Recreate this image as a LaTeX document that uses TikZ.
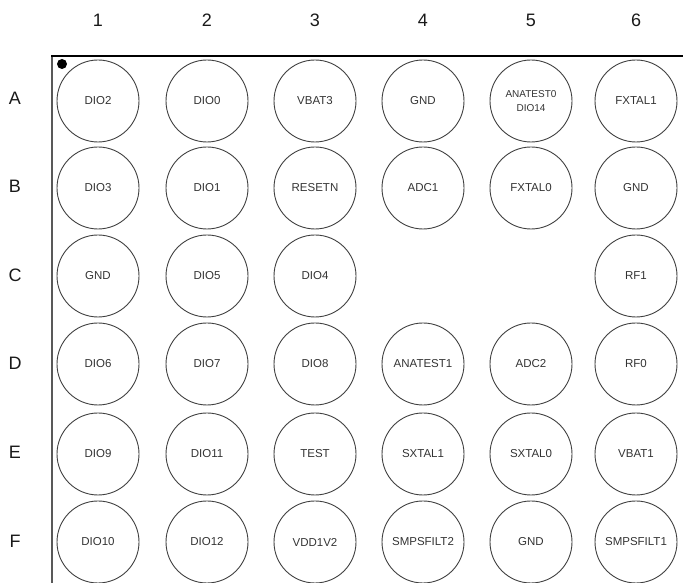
\documentclass[tikz,border=0pt]{standalone}
\usepackage{fontspec}
\setmainfont{Liberation Sans}
\begin{document}
\begin{tikzpicture}[x=1pt,y=1pt,
  pin/.style={circle,draw=black!75,line width=0.9pt,minimum size=82pt,inner sep=0pt,
    font=\fontsize{11.5}{12}\selectfont,text=black!80,align=center},
  smallpin/.style={pin,font=\fontsize{10}{13.5}\selectfont},
  axislabel/.style={font=\fontsize{18}{19}\selectfont,text=black!90,inner sep=0pt}]
\useasboundingbox (0,0) rectangle (683,583);
% frame
\draw[black!65,line width=1.3pt] (52,527) -- (52,0);
\draw[black,line width=2.6pt] (51.4,527) -- (683,527);
\fill[black] (62,519) circle (5);
% column labels
\foreach \x/\n in {98/1,207/2,315/3,423/4,531/5,636/6}
  \node[axislabel] (col\n) at (\x,563) {\n};
% row labels
\foreach \y/\n in {485/A,397/B,308/C,220/D,131/E,42/F}
  \node[axislabel] (row\n) at (15,\y) {\n};
% pins
\foreach \x/\y/\nm/\t in {
  98/482/A1/DIO2, 207/482/A2/DIO0, 315/482/A3/VBAT3, 423/482/A4/GND, 636/482/A6/FXTAL1,
  98/395/B1/DIO3, 207/395/B2/DIO1, 315/395/B3/RESETN, 423/395/B4/ADC1, 531/395/B5/FXTAL0, 636/395/B6/GND,
  98/307/C1/GND, 207/307/C2/DIO5, 315/307/C3/DIO4, 636/307/C6/RF1,
  98/219/D1/DIO6, 207/219/D2/DIO7, 315/219/D3/DIO8, 423/219/D4/ANATEST1, 531/219/D5/ADC2, 636/219/D6/RF0,
  98/129/E1/DIO9, 207/129/E2/DIO11, 315/129/E3/TEST, 423/129/E4/SXTAL1, 531/129/E5/SXTAL0, 636/129/E6/VBAT1,
  98/41/F1/DIO10, 207/41/F2/DIO12, 315/41/F3/VDD1V2, 423/41/F4/SMPSFILT2, 531/41/F5/GND, 636/41/F6/SMPSFILT1}
  \node[pin] (\nm) at (\x,\y) {\t};
\node[smallpin] (A5) at (531,482) {ANATEST0\\DIO14};
\end{tikzpicture}
\end{document}
